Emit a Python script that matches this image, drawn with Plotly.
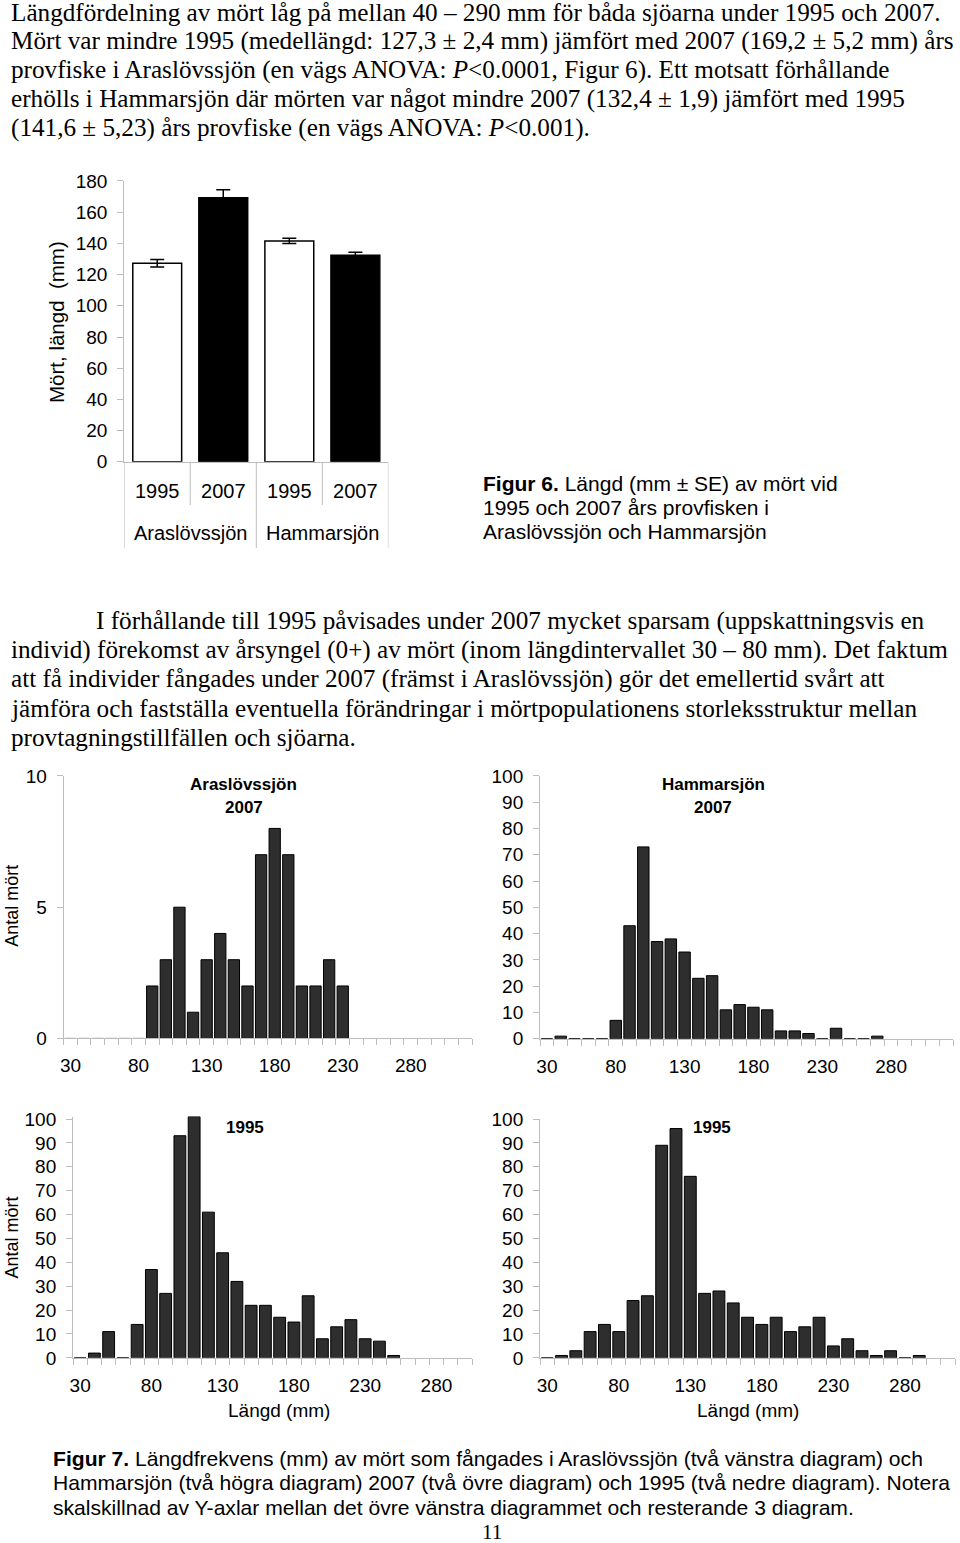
import plotly.graph_objects as go

W, H = 960, 1543
SANS = 'Liberation Sans, Arial, sans-serif'
SERIF = 'Liberation Serif, Times New Roman, serif'
GRAY = '#bdbdbd'

# ---- text on the page ----
intro_lines = [
    'Längdfördelning av mört låg på mellan 40 – 290 mm för båda sjöarna under 1995 och 2007.',
    'Mört var mindre 1995 (medellängd: 127,3 ± 2,4 mm) jämfört med 2007 (169,2 ± 5,2 mm) års',
    'provfiske i Araslövssjön (en vägs ANOVA: <i>P</i>&lt;0.0001, Figur 6). Ett motsatt förhållande',
    'erhölls i Hammarsjön där mörten var något mindre 2007 (132,4 ± 1,9) jämfört med 1995',
    '(141,6 ± 5,23) års provfiske (en vägs ANOVA: <i>P</i>&lt;0.001).',
]
middle_lines = [
    'I förhållande till 1995 påvisades under 2007 mycket sparsam (uppskattningsvis en',
    'individ) förekomst av årsyngel (0+) av mört (inom längdintervallet 30 – 80 mm). Det faktum',
    'att få individer fångades under 2007 (främst i Araslövssjön) gör det emellertid svårt att',
    'jämföra och fastställa eventuella förändringar i mörtpopulationens storleksstruktur mellan',
    'provtagningstillfällen och sjöarna.',
]
fig6_caption = [
    '<b>Figur 6.</b> Längd (mm ± SE) av mört vid',
    '1995 och 2007 års provfisken i',
    'Araslövssjön och Hammarsjön',
]
fig7_caption = [
    '<b>Figur 7.</b> Längdfrekvens (mm) av mört som fångades i Araslövssjön (två vänstra diagram) och',
    'Hammarsjön (två högra diagram) 2007 (två övre diagram) och 1995 (två nedre diagram). Notera',
    'skalskillnad av Y-axlar mellan det övre vänstra diagrammet och resterande 3 diagram.',
]

# ---- Figur 6 data ----
lake_names = ['Araslövssjön', 'Hammarsjön']
years = ['1995', '2007', '1995', '2007']
mean_length = [127.3, 169.2, 141.6, 132.4]
se_length = [2.4, 5.2, 1.7, 1.9]
bar_fill = ['white', 'black', 'white', 'black']

# ---- Figur 7 data (10 mm length classes) ----
length_bins = [30, 40, 50, 60, 70, 80, 90, 100, 110, 120, 130, 140, 150, 160, 170,
               180, 190, 200, 210, 220, 230, 240, 250, 260, 270, 280, 290, 300, 310, 320]
bin_ticks = [30, 80, 130, 180, 230, 280]
arasl_2007 = [0, 0, 0, 0, 0, 0, 2, 3, 5, 1, 3, 4, 3, 2, 7, 8, 7, 2, 2, 3, 2]
hammar_2007 = [0, 1, 0, 0, 0, 7, 43, 73, 37, 38, 33, 23, 24, 11, 13, 12, 11, 3, 3, 2, 0, 4, 0, 0, 1]
arasl_1995 = [0, 2, 11, 0, 14, 37, 27, 93, 101, 61, 44, 32, 22, 22, 17, 15, 26, 8, 13, 16, 8, 7, 1]
hammar_1995 = [0, 1, 3, 11, 14, 11, 24, 26, 89, 96, 76, 27, 28, 23, 17, 14, 17, 11, 13, 17, 5, 8, 3, 1, 3, 0, 1]


def px(x):
    return x / W


def py(y):
    # the captured page comes out slightly squeezed vertically, compensate for it
    return 1 - ((y - 9.6) / 0.987) / H


def text(x, y, s, size, family, xanchor='left', angle=0):
    return dict(x=px(x), y=py(y), xref='paper', yref='paper', text=s, showarrow=False,
                xanchor=xanchor, yanchor='middle', textangle=angle, borderpad=0,
                font=dict(size=size, family=family, color='black'))


fig = go.Figure()

# Figur 6 bars
pos = list(range(len(years)))
fig.add_trace(go.Bar(
    x=pos, y=mean_length, width=0.74,
    marker=dict(color=bar_fill, line=dict(color='black', width=1.5)),
    error_y=dict(type='data', array=se_length, color='black', thickness=1.5, width=7),
    xaxis='x', yaxis='y',
))

# Figur 7 histograms
hists = [
    (arasl_2007, 'x2', 'y2'),
    (hammar_2007, 'x3', 'y3'),
    (arasl_1995, 'x4', 'y4'),
    (hammar_1995, 'x5', 'y5'),
]
for counts, xa, ya in hists:
    fig.add_trace(go.Bar(
        x=length_bins[:len(counts)], y=counts, width=8.3,
        marker=dict(color='#2e2e2e', line=dict(color='black', width=1)),
        xaxis=xa, yaxis=ya,
    ))

yaxis_common = dict(showline=True, linecolor=GRAY, ticks='outside', ticklen=6, tickcolor=GRAY,
                    showgrid=False, zeroline=False, tickfont=dict(size=19, family=SANS, color='black'),
                    ticklabelstandoff=6)
hist_x = dict(showline=True, linecolor=GRAY, showgrid=False, zeroline=False,
              tickvals=bin_ticks, ticks='', ticklabelstandoff=10,
              tickfont=dict(size=19, family=SANS, color='black'),
              minor=dict(ticks='outside', tick0=25, dtick=10, ticklen=6, tickcolor=GRAY, showgrid=False))

f6_top, f6_bot = 180.7, 461.7
fig.update_layout(
    width=W, height=H, margin=dict(l=0, r=0, t=0, b=0),
    paper_bgcolor='white', plot_bgcolor='white', showlegend=False,
    xaxis=dict(domain=[px(120.7), px(386)], anchor='y', range=[-0.5, 3.5],
               tickvals=pos, ticktext=years, ticks='', showline=True, linecolor=GRAY,
               ticklabelstandoff=11, tickfont=dict(size=20, family=SANS, color='black'),
               showgrid=False, zeroline=False),
    yaxis=dict(yaxis_common, domain=[py(f6_bot), py(f6_top)], range=[0, 180], dtick=20, anchor='x'),
    xaxis2=dict(hist_x, domain=[px(60), px(470)], range=[25, 325], anchor='y2'),
    yaxis2=dict(yaxis_common, domain=[py(1038.7), py(776)], range=[0, 10], dtick=5, anchor='x2'),
    xaxis3=dict(hist_x, domain=[px(538.3), px(953)], range=[25, 325], anchor='y3'),
    yaxis3=dict(yaxis_common, domain=[py(1039), py(776)], range=[0, 100], dtick=10, anchor='x3'),
    xaxis4=dict(hist_x, domain=[px(69.3), px(470)], range=[25, 305], anchor='y4'),
    yaxis4=dict(yaxis_common, domain=[py(1358.3), py(1116.9)], range=[0, 101],
                tickvals=[0, 10, 20, 30, 40, 50, 60, 70, 80, 90, 100], anchor='x4'),
    xaxis5=dict(hist_x, domain=[px(538.3), px(955)], range=[25, 315], anchor='y5'),
    yaxis5=dict(yaxis_common, domain=[py(1358.3), py(1119.3)], range=[0, 100], dtick=10, anchor='x5'),
)

# category dividers under the Figur 6 axis (short between years, long between lakes)
shapes = []
for b in [-0.5, 0.5, 1.5, 2.5, 3.5]:
    long_line = b in (-0.5, 1.5, 3.5)
    shapes.append(dict(type='line', xref='x', yref='paper', x0=b, x1=b,
                       y0=py(f6_bot), y1=py(548 if long_line else 505),
                       line=dict(color=GRAY, width=1)))
fig.update_layout(shapes=shapes)

ann = []
for i, s in enumerate(intro_lines):
    ann.append(text(6, 12 + 29 * i, s, 25.2, SERIF))
for i, s in enumerate(middle_lines):
    ann.append(text(91 if i == 0 else 6, 621 + 29.2 * i, s, 25.2, SERIF))
for i, s in enumerate(fig6_caption):
    ann.append(text(480, 483 + 24 * i, s, 21, SANS))
for i, s in enumerate(fig7_caption):
    ann.append(text(48, 1459 + 24.5 * i, s, 21.1, SANS))
ann.append(text(490, 1533, '11', 21, SERIF, xanchor='center'))

# lake group labels for Figur 6
for j, name in enumerate(lake_names):
    ann.append(dict(x=2 * j + 0.5, y=py(533), xref='x', yref='paper', text=name, showarrow=False,
                    xanchor='center', yanchor='middle', font=dict(size=20, family=SANS, color='black')))

# axis titles and panel titles
ann.append(text(52, 322, 'Mört, längd  (mm)', 20.5, SANS, xanchor='center', angle=-90))
ann.append(text(8, 906, 'Antal mört', 18, SANS, xanchor='center', angle=-90))
ann.append(text(8, 1238, 'Antal mört', 18, SANS, xanchor='center', angle=-90))
ann.append(text(241, 785, '<b>Araslövssjön</b>', 17, SANS, xanchor='center'))
ann.append(text(241, 808, '<b>2007</b>', 17, SANS, xanchor='center'))
ann.append(text(712, 785, '<b>Hammarsjön</b>', 17, SANS, xanchor='center'))
ann.append(text(712, 808, '<b>2007</b>', 17, SANS, xanchor='center'))
ann.append(text(242, 1128, '<b>1995</b>', 17, SANS, xanchor='center'))
ann.append(text(711, 1128, '<b>1995</b>', 17, SANS, xanchor='center'))
ann.append(text(276, 1411, 'Längd (mm)', 19, SANS, xanchor='center'))
ann.append(text(747, 1411, 'Längd (mm)', 19, SANS, xanchor='center'))

fig.update_layout(annotations=ann)

fig.write_html('out.html', config={'displayModeBar': False},
               post_script="document.body.style.margin='0';")
